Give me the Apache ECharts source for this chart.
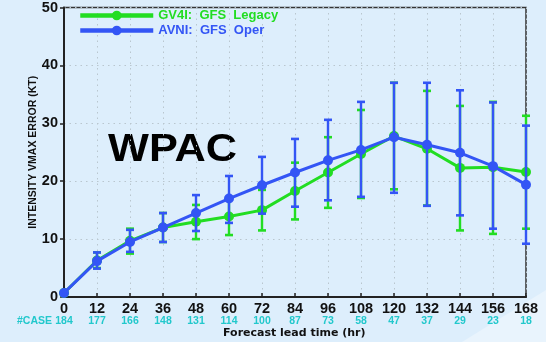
<!DOCTYPE html>
<html><head><meta charset="utf-8">
<script src="https://cdn.jsdelivr.net/npm/echarts@6/dist/echarts.min.js"></script>
<style>html,body{margin:0;padding:0;background:#ddeefc}#c{width:546px;height:342px}</style>
</head><body><div id="c"></div>
<script>
var hours = [0,12,24,36,48,60,72,84,96,108,120,132,144,156,168];
var cases = [184,177,166,148,131,114,100,87,73,58,47,37,29,23,18];
var gv4i   = [0.7, 6.3, 9.7, 12.0, 13.0, 13.9, 15.0, 18.3, 21.5, 24.7, 27.8, 25.6, 22.3, 22.4, 21.6];
var gv4iLo = [0.7, 5.0, 7.5, 9.5, 10.0, 10.7, 11.5, 13.4, 15.4, 17.1, 18.6, 15.8, 11.5, 10.9, 11.8];
var gv4iHi = [0.7, 7.7, 11.8, 14.5, 15.9, 17.1, 18.5, 23.2, 27.6, 32.3, 37.0, 35.6, 33.0, 33.7, 31.3];
var avni   = [0.7, 6.2, 9.5, 12.0, 14.5, 17.0, 19.3, 21.5, 23.6, 25.4, 27.6, 26.3, 24.9, 22.6, 19.4];
var avniLo = [0.7, 4.9, 7.8, 9.5, 11.4, 12.8, 14.4, 15.6, 16.7, 17.3, 18.0, 15.75, 14.1, 11.8, 9.2];
var avniHi = [0.7, 7.7, 11.6, 14.5, 17.6, 20.9, 24.2, 27.3, 30.6, 33.7, 37.0, 37.0, 35.7, 33.6, 29.6];
var yTicks = [0,10,20,30,40,50];

var GREEN = '#22dd22', BLUE = '#3355f5', CYAN = '#22c8cc';
var FONT = '"Liberation Sans", Arial, sans-serif';

function pairs(v){ return hours.map(function(h,i){ return [h, v[i]]; }); }
function errData(lo, hi){ return hours.map(function(h,i){ return [h, lo[i], hi[i]]; }); }
function errRender(color){
  return function(params, api){
    var x = api.value(0), lo = api.value(1), hi = api.value(2);
    if (lo === hi) return null;
    var p1 = api.coord([x, lo]), p2 = api.coord([x, hi]);
    var hw = 4;
    return {type:'group', children:[
      {type:'line', shape:{x1:p1[0], y1:p1[1], x2:p2[0], y2:p2[1]}, style: {stroke:color, lineWidth:2.4}},
      {type:'line', shape:{x1:p1[0]-hw, y1:p1[1], x2:p1[0]+hw, y2:p1[1]}, style: {stroke:color, lineWidth:2.6}},
      {type:'line', shape:{x1:p2[0]-hw, y1:p2[1], x2:p2[0]+hw, y2:p2[1]}, style: {stroke:color, lineWidth:2.6}}
    ]};
  };
}

var chart = echarts.init(document.getElementById('c'), null, {renderer:'canvas'});
chart.setOption({
  backgroundColor: '#ddeefc',
  animation: false,
  grid: {left: 64, right: 20, top: 5, bottom: 45, show: true, borderColor: '#333', borderWidth: 1.5, backgroundColor: 'transparent'},
  legend: {
    left: 73, top: 4, orient: 'vertical', itemWidth: 73, itemHeight: 12, itemGap: 2,
    lineStyle: {width: 4.5},
    textStyle: {fontFamily: FONT, fontWeight: 'bold', fontSize: 13},
    data: [
      {name: 'GV4I:  GFS  Legacy', textStyle: {color: GREEN}},
      {name: 'AVNI:  GFS  Oper', textStyle: {color: BLUE}}
    ]
  },
  xAxis: {
    type: 'value', min: 0, max: 168, interval: 12,
    axisLine: {show: true, lineStyle: {color: '#222', width: 2}},
    axisTick: {show: true, inside: true, length: 4, lineStyle: {color: '#222', width: 1.5}},
    splitLine: {show: true, lineStyle: {color: '#b9c6cf', type: [1.5, 4], width: 1}},
    axisLabel: {
      margin: 4,
      formatter: function(v){ var i = hours.indexOf(v); return '{a|' + v + '}\n{b|' + cases[i] + '}'; },
      rich: {
        a: {fontSize: 14.5, fontWeight: 'bold', color: '#111', lineHeight: 15, fontFamily: FONT},
        b: {fontSize: 10.5, fontWeight: 'bold', color: CYAN, lineHeight: 11, fontFamily: FONT}
      }
    }
  },
  yAxis: {
    type: 'value', min: 0, max: 50, interval: 10,
    name: 'INTENSITY VMAX ERROR (KT)', nameLocation: 'middle', nameGap: 25, nameMoveOverlap: false,
    nameTextStyle: {fontFamily: FONT, fontWeight: 'bold', fontSize: 10.5, color: '#111'},
    axisLine: {show: true, lineStyle: {color: '#222', width: 2}},
    axisTick: {show: true, length: 4, lineStyle: {color: '#222', width: 1.5}},
    splitLine: {show: true, lineStyle: {color: '#b9c6cf', type: [1.5, 4], width: 1}},
    axisLabel: {margin: 6, fontFamily: FONT, fontWeight: 'bold', fontSize: 14.5, color: '#111',
      formatter: function(v){ return yTicks.indexOf(v) >= 0 ? String(v) : ''; }}
  },
  graphic: [
    {type: 'polygon', shape: {points: [[462,342],[546,290],[546,342]]}, style: {fill: 'rgba(255,255,255,0.35)'}, silent: true, z: -1},
    {type: 'text', left: 17, top: 316, style: {text: '#CASE', fontFamily: FONT, fontWeight: 'bold', fontSize: 10.5, fill: CYAN}},
    {type: 'text', left: 223, top: 328, style: {text: 'Forecast lead time (hr)', fontFamily: '"DejaVu Sans", sans-serif', fontWeight: 'bold', fontSize: 11, fill: '#111'}},
    {type: 'text', x: 108, y: 151, scaleX: 1.14, style: {text: 'WPAC', fontFamily: FONT, fontWeight: 'bold', fontSize: 38, fill: '#000', textVerticalAlign: 'middle'}}
  ],
  series: [
    {type: 'custom', name: 'gerr', data: errData(gv4iLo, gv4iHi), renderItem: errRender(GREEN), z: 2},
    {type: 'line', name: 'GV4I:  GFS  Legacy', data: pairs(gv4i), color: GREEN, z: 3,
      lineStyle: {width: 3}, symbol: 'circle', symbolSize: 10, itemStyle: {color: GREEN}},
    {type: 'custom', name: 'berr', data: errData(avniLo, avniHi), renderItem: errRender(BLUE), z: 4},
    {type: 'line', name: 'AVNI:  GFS  Oper', data: pairs(avni), color: BLUE, z: 5,
      lineStyle: {width: 3}, symbol: 'circle', symbolSize: 10, itemStyle: {color: BLUE}}
  ]
});
</script></body></html>
